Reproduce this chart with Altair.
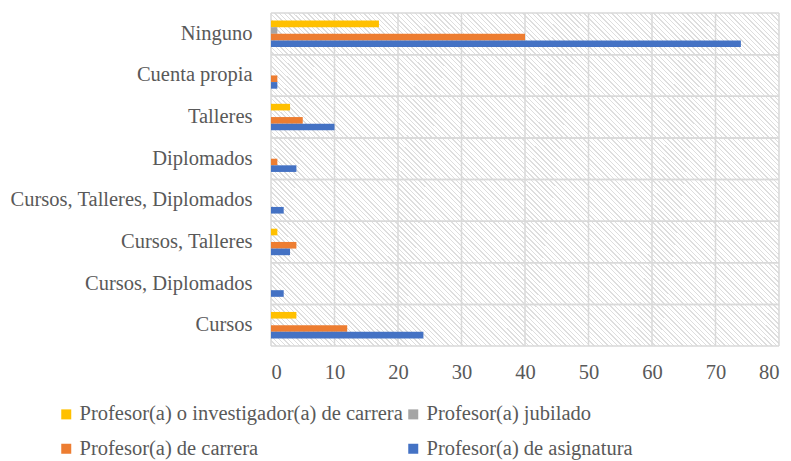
import altair as alt
import pandas as pd

categories = [
    "Ninguno",
    "Cuenta propia",
    "Talleres ",
    "Diplomados",
    "Cursos, Talleres, Diplomados",
    "Cursos, Talleres",
    "Cursos, Diplomados",
    "Cursos",
]
series = [
    "Profesor(a) o investigador(a) de carrera",
    "Profesor(a) jubilado",
    "Profesor(a) de carrera",
    "Profesor(a) de asignatura",
]
colors = ["#FFC000", "#A5A5A5", "#ED7D31", "#4472C4"]
x_ticks = [0, 10, 20, 30, 40, 50, 60, 70, 80]

investigador = [17, 0, 3, 0, 0, 1, 0, 4]
jubilado = [1, 0, 0, 0, 0, 0, 0, 0]
carrera = [40, 1, 5, 1, 0, 4, 0, 12]
asignatura = [74, 1, 10, 4, 2, 3, 2, 24]

rows = []
for vals, s in zip([investigador, jubilado, carrera, asignatura], series):
    for c, v in zip(categories, vals):
        rows.append({"cat": c, "serie": s, "valor": v})
df = pd.DataFrame(rows)

W, H = 508, 333
FONT = "Liberation Serif"
FS = 20.5
TXT = "#595959"
GRID = "#D9D9D9"
HATCH = "#DEDEDE"

# diagonal hatch background made with a striped linear gradient
N = 180
frac = 0.3
stops = []
for i in range(N):
    a = i / N
    b = (i + frac) / N
    c = (i + 1) / N
    stops += [
        {"offset": a, "color": HATCH},
        {"offset": b, "color": HATCH},
        {"offset": b, "color": "#FFFFFF"},
        {"offset": c, "color": "#FFFFFF"},
    ]
s = 0.761
hatch = alt.Gradient(gradient="linear", x1=0, y1=1, x2=1.521 * s, y2=1 - s, stops=stops)

offset_domain = ["_top"] + series + ["_bottom"]

x_scale = alt.Scale(domain=[0, 80], nice=False)
y_scale = alt.Scale(domain=categories, paddingInner=0, paddingOuter=0)

bg = alt.Chart(alt.Data(values=[{"k": 1}])).mark_rect(fill=hatch, strokeWidth=0).encode(
    x=alt.value(0), x2=alt.value("width"), y=alt.value(0), y2=alt.value("height")
)

vgrid = alt.Chart(pd.DataFrame({"t": x_ticks})).mark_rule(
    color=GRID, strokeWidth=1.5
).encode(x=alt.X("t:Q", scale=x_scale))

hgrid_top = alt.Chart(pd.DataFrame({"cat": categories})).mark_rule(
    color=GRID, strokeWidth=1.5
).encode(y=alt.Y("cat:N", scale=y_scale, bandPosition=0))

hgrid_bot = alt.Chart(pd.DataFrame({"cat": categories})).mark_rule(
    color=GRID, strokeWidth=1.5
).encode(y=alt.Y("cat:N", scale=y_scale, bandPosition=1))

bars = alt.Chart(df).mark_bar().encode(
    x=alt.X(
        "valor:Q",
        scale=x_scale,
        axis=alt.Axis(
            values=x_ticks,
            title=None,
            domain=False,
            ticks=False,
            grid=False,
            labelFont=FONT,
            labelFontSize=FS,
            labelColor=TXT,
            labelPadding=16,
        ),
    ),
    y=alt.Y(
        "cat:N",
        scale=y_scale,
        axis=alt.Axis(
            title=None,
            domain=False,
            ticks=False,
            tickSize=0,
            grid=False,
            labelFont=FONT,
            labelFontSize=FS,
            labelColor=TXT,
            labelPadding=19,
            labelLimit=400,
        ),
    ),
    yOffset=alt.YOffset(
        "serie:N",
        scale=alt.Scale(domain=offset_domain, paddingInner=0, paddingOuter=0.14),
    ),
    color=alt.Color(
        "serie:N",
        scale=alt.Scale(domain=series, range=colors),
        legend=alt.Legend(
            title=None,
            orient="none",
            direction="horizontal",
            legendX=-215,
            legendY=391,
            columns=2,
            columnPadding=0,
            rowPadding=13.5,
            symbolType="square",
            symbolSize=100,
            symbolStrokeWidth=0,
            labelOffset=3,
            labelFont=FONT,
            labelFontSize=FS,
            labelColor=TXT,
            labelLimit=500,
            padding=0,
        ),
    ),
)

chart = (
    alt.layer(bg, vgrid, hgrid_top, hgrid_bot, bars)
    .properties(
        width=W,
        height=H,
        autosize=alt.AutoSizeParams(type="none"),
        padding={"left": 263, "top": 5, "right": 4, "bottom": 114},
    )
    .configure_view(stroke=None)
)

chart.save("out.html", embed_options={"renderer": "svg", "actions": False})
